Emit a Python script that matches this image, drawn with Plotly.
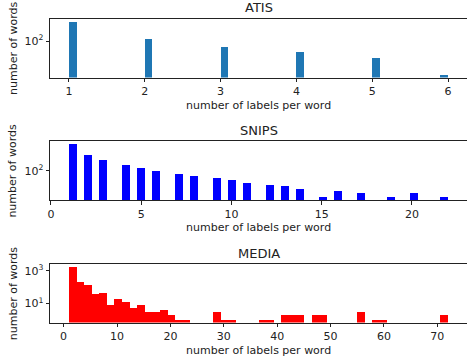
import numpy as np
import plotly.graph_objects as go

# ---- data ----
ATIS_LABELS = [1, 2, 3, 4, 5, 6]
ATIS_COUNTS = [1510, 145, 48, 24, 10, 1]

SNIPS_LABELS = list(range(1, 23))
SNIPS_COUNTS = [10500, 1550, 620, 275, 155, 92, 57, 38, 27, 19, 11,
                8, 7, 4, 1, 3, 2, 0, 1, 2, 0, 1]

MEDIA_RANGE = (1, 72)
MEDIA_BIN_COUNTS = [1820, 210, 138, 39, 45, 8, 19, 13, 5, 8,
                    3, 3, 4, 2, 1, 1, 0, 0, 0, 3,
                    1, 1, 0, 0, 0, 1, 1, 0, 2, 2,
                    2, 0, 2, 2, 0, 0, 0, 0, 3, 0,
                    1, 1, 0, 0, 0, 0, 0, 0, 0, 2]

TITLES = ["ATIS", "SNIPS", "MEDIA"]
COLORS = ["#1f77b4", "#0000ff", "#ff0000"]
X_TICKS = [[1, 2, 3, 4, 5, 6], [0, 5, 10, 15, 20], [0, 10, 20, 30, 40, 50, 60, 70]]
Y_TICKS = [[100], [100], [10, 1000]]
Y_TICKTEXT = [["10<sup>2</sup>"], ["10<sup>2</sup>"], ["10<sup>1</sup>", "10<sup>3</sup>"]]
XLABEL = "number of labels per word"
YLABEL = "number of words"
NBINS = 50

# ---- binning ----
datasets = []
for labels, counts in [(ATIS_LABELS, ATIS_COUNTS), (SNIPS_LABELS, SNIPS_COUNTS)]:
    lo, hi = min(labels), max(labels)
    edges = np.linspace(lo, hi, NBINS + 1)
    h, _ = np.histogram(labels, bins=edges, weights=counts)
    datasets.append((edges, h))
edges = np.linspace(MEDIA_RANGE[0], MEDIA_RANGE[1], NBINS + 1)
datasets.append((edges, np.array(MEDIA_BIN_COUNTS, dtype=float)))

W, H = 467, 362
# plot-area pixel positions (top, bottom)
PANELS = [(18.5, 77.5), (141.2, 200.0), (264.0, 322.5)]

fig = go.Figure()
layout = {}
axcolor = "#222222"
annotations = []
for i, ((edges, h), color) in enumerate(zip(datasets, COLORS)):
    n = i + 1
    xa = "x" if n == 1 else f"x{n}"
    ya = "y" if n == 1 else f"y{n}"
    centers = 0.5 * (edges[:-1] + edges[1:])
    width = edges[1] - edges[0]
    yvals = [v if v > 0 else None for v in h]
    fig.add_trace(go.Bar(x=centers, y=yvals, width=width, marker_color=color,
                         marker_line_width=0, xaxis=xa, yaxis=ya,
                         hoverinfo="x+y"))
    lo, hi = edges[0], edges[-1]
    pad = 0.05 * (hi - lo)
    pos = h[h > 0]
    lmin, lmax = np.log10(pos.min()), np.log10(pos.max())
    R = lmax - lmin
    top, bot = PANELS[i]
    layout["xaxis" if n == 1 else f"xaxis{n}"] = dict(
        domain=[0, 1], anchor=ya, range=[lo - pad, hi + pad],
        tickvals=X_TICKS[i], ticks="outside", ticklen=3.5, tickwidth=0.8,
        tickcolor=axcolor, showline=True, linecolor=axcolor, linewidth=1,
        mirror=True, showgrid=False, zeroline=False, automargin=False,
        tickfont=dict(size=11, color="#222"),
    )
    layout["yaxis" if n == 1 else f"yaxis{n}"] = dict(
        domain=[1 - bot / H, 1 - top / H], anchor=xa, type="log",
        range=[lmin - 0.05 * R, lmax + 0.05 * R],
        tickvals=Y_TICKS[i], ticktext=Y_TICKTEXT[i], ticks="outside",
        ticklen=3.5, tickwidth=0.8, tickcolor=axcolor, showline=True,
        linecolor=axcolor, linewidth=1, mirror=False, showgrid=False,
        zeroline=False, automargin=False, tickfont=dict(size=11, color="#222"),
    )
    # panel title
    annotations.append(dict(text=TITLES[i], xref="paper", yref="paper", x=0.5,
                            y=1 - (top - 10.5) / H, xanchor="center",
                            yanchor="middle", showarrow=False,
                            font=dict(size=13, color="#222")))
    # x-axis label
    annotations.append(dict(text=XLABEL, xref="paper", yref="paper", x=0.5,
                            y=1 - (bot + 28) / H, xanchor="center",
                            yanchor="middle", showarrow=False,
                            font=dict(size=11, color="#222")))
    # y-axis label
    annotations.append(dict(text=YLABEL, xref="paper", yref="paper",
                            x=-37 / (W - 50), y=1 - (top + bot) / 2 / H,
                            xanchor="center", yanchor="middle", textangle=-90,
                            showarrow=False, font=dict(size=11, color="#222")))

fig.update_layout(width=W, height=H, margin=dict(l=50, r=0, t=0, b=0),
                  plot_bgcolor="white", paper_bgcolor="white",
                  showlegend=False, bargap=0,
                  font=dict(family="DejaVu Sans", size=11, color="#222"),
                  annotations=annotations, **layout)

fig.write_html("out.html",
               config={"displayModeBar": False},
               post_script="document.body.style.margin='0';"
                           "document.body.style.overflow='hidden';")
